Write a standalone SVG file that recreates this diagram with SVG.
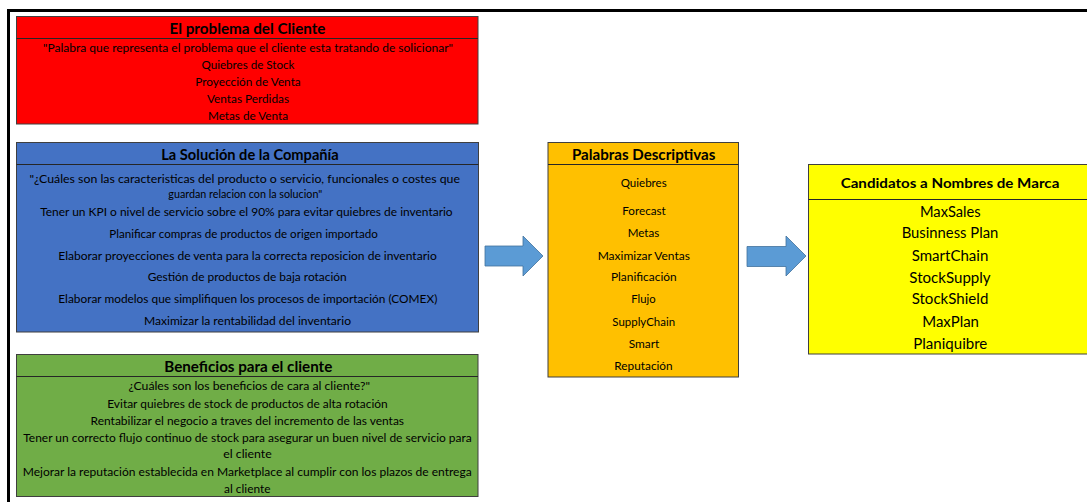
<svg xmlns="http://www.w3.org/2000/svg" width="1087" height="502" viewBox="0 0 1087 502">
  <style>
    .box { stroke: #3f3f3f; stroke-width: 1; }
    .sep { stroke: #262626; stroke-width: 1.2; }
    text { font-family: Lato, "Open Sans", "Liberation Sans", sans-serif; fill: #000; text-anchor: middle; }
    .t { font-weight: bold; font-size: 14.5px; }
    .b { font-size: 11.5px; }
    .yt { font-weight: bold; font-size: 13.5px; }
    .yb { font-size: 14.5px; }
    .arrow { fill: #5b9bd5; stroke: #41719c; stroke-width: 0.8; }
  </style>
  <rect width="1087" height="502" fill="#ffffff"/>
  <!-- outer sheet frame -->
  <rect x="8.5" y="10.5" width="1100" height="510" fill="none" stroke="#000" stroke-width="3"/>

  <g id="problema-cliente">
    <rect class="box" x="16.5" y="16.5" width="461.5" height="107.5" fill="#ff0000"/>
    <line class="sep" x1="16.5" y1="38.5" x2="478" y2="38.5"/>
    <text class="t" x="247.5" y="34" textLength="156" lengthAdjust="spacingAndGlyphs">El problema del Cliente</text>
    <g class="b">
      <text x="248" y="52" textLength="410" lengthAdjust="spacingAndGlyphs">"Palabra que representa el problema que el cliente esta tratando de solicionar"</text>
      <text x="248" y="69" textLength="93" lengthAdjust="spacingAndGlyphs">Quiebres de Stock</text>
      <text x="248" y="86" textLength="105.5" lengthAdjust="spacingAndGlyphs">Proyección de Venta</text>
      <text x="248" y="103" textLength="82" lengthAdjust="spacingAndGlyphs">Ventas Perdidas</text>
      <text x="248" y="120" textLength="80" lengthAdjust="spacingAndGlyphs">Metas de Venta</text>
    </g>
  </g>

  <g id="solucion-compania">
    <rect class="box" x="16.5" y="142.5" width="462" height="189.5" fill="#4472c4"/>
    <line class="sep" x1="16.5" y1="164.5" x2="478.5" y2="164.5"/>
    <text class="t" x="250" y="160" textLength="177.5" lengthAdjust="spacingAndGlyphs">La Solución de la Compañía</text>
    <g class="b">
      <text x="244.7" y="183" textLength="430.5" lengthAdjust="spacingAndGlyphs">"¿Cuáles son las caracteristicas del producto o servicio, funcionales o costes que</text>
      <text x="245.3" y="197.5" textLength="154" lengthAdjust="spacingAndGlyphs">guardan relacion con la solucion"</text>
      <text x="246.4" y="215.5" textLength="412.5" lengthAdjust="spacingAndGlyphs">Tener un KPI o nivel de servicio sobre el 90% para evitar quiebres de inventario</text>
      <text x="243.5" y="237.5" textLength="268.5" lengthAdjust="spacingAndGlyphs">Planificar compras de productos de origen importado</text>
      <text x="247.5" y="259.5" textLength="378.5" lengthAdjust="spacingAndGlyphs">Elaborar proyecciones de venta para la correcta reposicion de inventario</text>
      <text x="247.2" y="281" textLength="199" lengthAdjust="spacingAndGlyphs">Gestión de productos de baja rotación</text>
      <text x="247.8" y="303" textLength="379" lengthAdjust="spacingAndGlyphs">Elaborar modelos que simplifiquen los procesos de importación (COMEX)</text>
      <text x="247.5" y="325" textLength="207" lengthAdjust="spacingAndGlyphs">Maximizar la rentabilidad del inventario</text>
    </g>
  </g>

  <g id="beneficios-cliente">
    <rect class="box" x="16.5" y="354.5" width="461.5" height="142" fill="#70ad47"/>
    <line class="sep" x1="16.5" y1="376.5" x2="478" y2="376.5"/>
    <text class="t" x="248.3" y="371.5" textLength="168" lengthAdjust="spacingAndGlyphs">Beneficios para el cliente</text>
    <g class="b">
      <text x="249.2" y="390" textLength="241.5" lengthAdjust="spacingAndGlyphs">¿Cuáles son los beneficios de cara al cliente?"</text>
      <text x="247.5" y="407.5" textLength="280.5" lengthAdjust="spacingAndGlyphs">Evitar quiebres de stock de productos de alta rotación</text>
      <text x="247.3" y="424.5" textLength="313.5" lengthAdjust="spacingAndGlyphs">Rentabilizar el negocio a traves del incremento de las ventas</text>
      <text x="247.5" y="441.5" textLength="448.5" lengthAdjust="spacingAndGlyphs">Tener un correcto flujo continuo de stock para asegurar un buen nivel de servicio para</text>
      <text x="247.5" y="458" textLength="48.5" lengthAdjust="spacingAndGlyphs">el cliente</text>
      <text x="247.2" y="475.5" textLength="449" lengthAdjust="spacingAndGlyphs">Mejorar la reputación establecida en Marketplace al cumplir con los plazos de entrega</text>
      <text x="247.3" y="493" textLength="46.5" lengthAdjust="spacingAndGlyphs">al cliente</text>
    </g>
  </g>

  <g id="palabras-descriptivas">
    <rect class="box" x="548" y="142.5" width="190.5" height="234.5" fill="#ffc000"/>
    <line class="sep" x1="548" y1="164.5" x2="738.5" y2="164.5"/>
    <text class="t" x="643.7" y="159.5" textLength="143.5" lengthAdjust="spacingAndGlyphs">Palabras Descriptivas</text>
    <g class="b">
      <text x="643.7" y="186.5" textLength="46" lengthAdjust="spacingAndGlyphs">Quiebres</text>
      <text x="644" y="214.5" textLength="43.5" lengthAdjust="spacingAndGlyphs">Forecast</text>
      <text x="643.5" y="237" textLength="31.5" lengthAdjust="spacingAndGlyphs">Metas</text>
      <text x="643.8" y="259.5" textLength="92.3" lengthAdjust="spacingAndGlyphs">Maximizar Ventas</text>
      <text x="643.8" y="280.5" textLength="65.7" lengthAdjust="spacingAndGlyphs">Planificación</text>
      <text x="643.5" y="303" textLength="24.3" lengthAdjust="spacingAndGlyphs">Flujo</text>
      <text x="643.7" y="325.5" textLength="62.7" lengthAdjust="spacingAndGlyphs">SupplyChain</text>
      <text x="644" y="347.5" textLength="30.7" lengthAdjust="spacingAndGlyphs">Smart</text>
      <text x="643.5" y="370" textLength="58.3" lengthAdjust="spacingAndGlyphs">Reputación</text>
    </g>
  </g>

  <g id="candidatos-marca">
    <rect class="box" x="808.5" y="164.5" width="290" height="189.5" fill="#ffff00"/>
    <line class="sep" x1="808.5" y1="199.5" x2="1098.5" y2="199.5"/>
    <text class="yt" x="950" y="187.5" textLength="218.7" lengthAdjust="spacingAndGlyphs">Candidatos a Nombres de Marca</text>
    <g class="yb">
      <text x="950.3" y="216.5" textLength="60.7" lengthAdjust="spacingAndGlyphs">MaxSales</text>
      <text x="950" y="238" textLength="96.7" lengthAdjust="spacingAndGlyphs">Businness Plan</text>
      <text x="950" y="261" textLength="76.7" lengthAdjust="spacingAndGlyphs">SmartChain</text>
      <text x="950" y="282.5" textLength="81.3" lengthAdjust="spacingAndGlyphs">StockSupply</text>
      <text x="950" y="304" textLength="76.7" lengthAdjust="spacingAndGlyphs">StockShield</text>
      <text x="950.6" y="326.5" textLength="56.7" lengthAdjust="spacingAndGlyphs">MaxPlan</text>
      <text x="950.3" y="349" textLength="74" lengthAdjust="spacingAndGlyphs">Planiquibre</text>
    </g>
  </g>

  <g id="connectors">
    <polygon class="arrow" points="485,246 523,246 523,236 543,256 523,276 523,266 485,266"/>
    <polygon class="arrow" points="747,246.5 786,246.5 786,236 806,256 786,276 786,266.5 747,266.5"/>
  </g>
</svg>
